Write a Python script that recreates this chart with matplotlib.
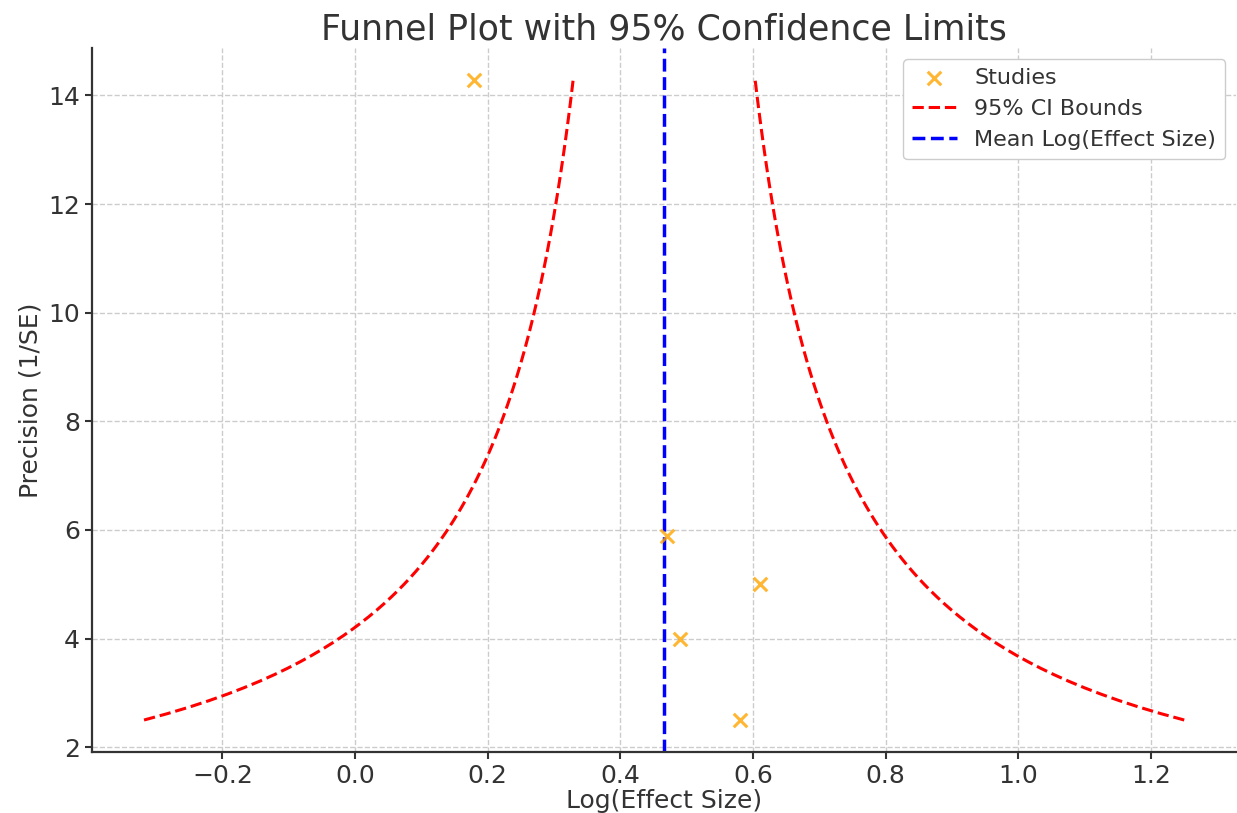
import numpy as np
import matplotlib
matplotlib.use("Agg")
from matplotlib import pyplot as plt

# study data
log_effect = [0.18, 0.47, 0.61, 0.49, 0.58]
std_err = [0.07, 0.17, 0.20, 0.25, 0.40]
precision = [1 / s for s in std_err]

mean_log = np.mean(log_effect)

# funnel limits: mean +/- 1.96 * SE across the precision range
prec_range = np.linspace(min(precision), max(precision), 100)
ci_lower = mean_log - 1.96 / prec_range
ci_upper = mean_log + 1.96 / prec_range

text_col = '#333333'
plt.rcParams['font.family'] = 'DejaVu Sans'
plt.rcParams['text.color'] = text_col
plt.rcParams['axes.labelcolor'] = text_col
plt.rcParams['xtick.color'] = text_col
plt.rcParams['ytick.color'] = text_col

fig = plt.figure(figsize=(12.37, 8.13), dpi=100)
ax = fig.add_axes([0.0744, 0.075, 0.925, 0.866])

ax.scatter(log_effect, precision, marker='x', color='orange', alpha=0.8,
           s=95, linewidths=2.2, label='Studies', zorder=3)
ax.plot(ci_lower, prec_range, '--', color='red', lw=2.2, label='95% CI Bounds')
ax.plot(ci_upper, prec_range, '--', color='red', lw=2.2)
ax.axvline(mean_log, color='blue', ls='--', lw=2.5, label='Mean Log(Effect Size)')

ax.set_title('Funnel Plot with 95% Confidence Limits', fontsize=25, pad=6)
ax.set_xlabel('Log(Effect Size)', fontsize=18, labelpad=1)
ax.set_ylabel('Precision (1/SE)', fontsize=18, labelpad=4)
ax.set_xticks(np.arange(-0.2, 1.21, 0.2))
ax.set_yticks(np.arange(2, 15, 2))
ax.tick_params(labelsize=18, width=1.5, length=5)

ax.grid(True, ls='--', color='#cccccc', lw=1)
ax.set_axisbelow(True)
for side in ['top', 'right']:
    ax.spines[side].set_visible(False)
for side in ['left', 'bottom']:
    ax.spines[side].set_color(text_col)
    ax.spines[side].set_linewidth(1.6)

ax.legend(loc='upper right', fontsize=16, framealpha=1, edgecolor='#cccccc')

fig.savefig('out.png', dpi=100)
